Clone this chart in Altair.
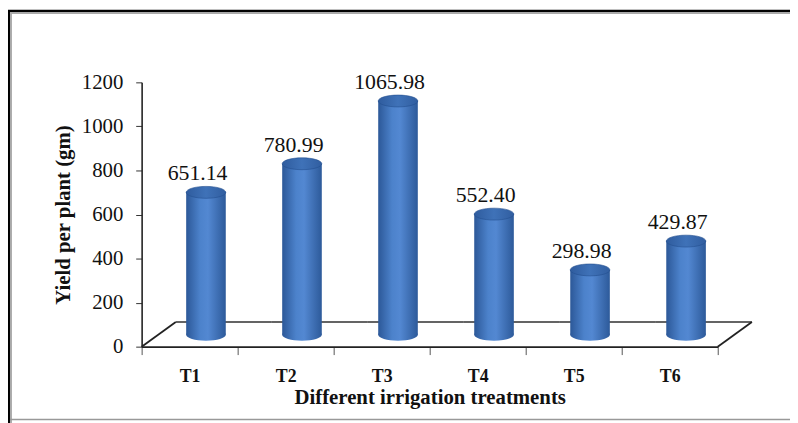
import altair as alt
import pandas as pd

treatments = ["T1", "T2", "T3", "T4", "T5", "T6"]
yields = [651.14, 780.99, 1065.98, 552.40, 298.98, 429.87]
y_ticks = [0, 200, 400, 600, 800, 1000, 1200]

df = pd.DataFrame({"treatment": treatments, "yield": yields})

W, H = 582, 267
SERIF = "Liberation Serif"

x_enc = alt.X(
    "treatment:N",
    sort=treatments,
    scale=alt.Scale(paddingInner=0, paddingOuter=0),
    axis=alt.Axis(
        title="Different irrigation treatments",
        titleFont=SERIF, titleFontSize=21, titleFontWeight="bold", titleColor="#111",
        titlePadding=1,
        labelFont=SERIF, labelFontSize=18, labelFontWeight="bold", labelColor="#111",
        labelAngle=0, labelPadding=13,
        tickBand="extent", tickSize=8, tickColor="#555", tickWidth=1,
        domainColor="#222", domainWidth=1.6,
    ),
)

y_axis = alt.Axis(
    title="Yield per plant (gm)",
    titleFont=SERIF, titleFontSize=21, titleFontWeight="bold", titleColor="#111",
    titlePadding=8,
    labelFont=SERIF, labelFontSize=21, labelColor="#111", labelPadding=13,
    values=y_ticks, format="d",
    tickSize=6, tickColor="#333", tickWidth=1,
    domainColor="#222", domainWidth=1.6, grid=False,
)
y_scale = alt.Scale(domain=[0, 1200], nice=False, zero=True)

base = alt.Chart(df)

body_grad = alt.Gradient(
    gradient="linear", x1=0, x2=1, y1=0, y2=0,
    stops=[
        alt.GradientStop(offset=0, color="#2c5898"),
        alt.GradientStop(offset=0.35, color="#4c82cb"),
        alt.GradientStop(offset=0.55, color="#5388d2"),
        alt.GradientStop(offset=1, color="#2d5a9a"),
    ],
)
top_grad = alt.Gradient(
    gradient="linear", x1=0, x2=1, y1=0, y2=0,
    stops=[
        alt.GradientStop(offset=0, color="#2f5c9e"),
        alt.GradientStop(offset=0.5, color="#3f72b8"),
        alt.GradientStop(offset=1, color="#315ea0"),
    ],
)

ELLIPSE = "M-1,0A1,0.3,0,1,0,1,0A1,0.3,0,1,0,-1,0Z"
DX = 16.5
TOP_OFF = -11
BOT_OFF = -12

floor_back = base.mark_tick(
    orient="horizontal", size=97, thickness=2, color="#222",
    xOffset=34.5, yOffset=-25,
).encode(x=x_enc, y=alt.Y(datum=0, type="quantitative", scale=y_scale, axis=y_axis))

floor_left = alt.Chart(df.head(1)).mark_rule(color="#222", strokeWidth=1.8).encode(
    x=alt.value(0), y=alt.value(H), x2=alt.value(34.5), y2=alt.value(H - 25)
)
floor_right = alt.Chart(df.head(1)).mark_rule(color="#222", strokeWidth=1.8).encode(
    x=alt.value(W), y=alt.value(H), x2=alt.value(W + 34.5), y2=alt.value(H - 25)
)

bottoms = base.mark_point(
    shape=ELLIPSE, size=1600, filled=True, fill=body_grad, opacity=1,
    strokeWidth=0, xOffset=DX, yOffset=BOT_OFF,
).encode(x=x_enc, y=alt.Y(datum=0, type="quantitative", scale=y_scale, axis=y_axis))

bodies = base.mark_bar(
    width=40, fill=body_grad, xOffset=DX, yOffset=TOP_OFF, y2Offset=BOT_OFF,
).encode(
    x=x_enc,
    y=alt.Y("yield:Q", scale=y_scale, axis=y_axis),
    y2=alt.Y2(datum=0),
)

tops = base.mark_point(
    shape=ELLIPSE, size=1600, filled=True, fill=top_grad, opacity=1,
    stroke="#24508f", strokeWidth=0.6, xOffset=DX, yOffset=TOP_OFF,
).encode(x=x_enc, y=alt.Y("yield:Q", scale=y_scale, axis=y_axis))

labels = base.mark_text(
    font=SERIF, fontSize=22, color="#111", baseline="alphabetic",
    xOffset=8, yOffset=-23,
).encode(
    x=x_enc,
    y=alt.Y("yield:Q", scale=y_scale, axis=y_axis),
    text=alt.Text("yield:Q", format=".2f"),
)

frame_df = pd.DataFrame({"k": [0]})
frame_top_black = alt.Chart(frame_df).mark_rule(color="#000", strokeWidth=2.5).encode(
    x=alt.value(-135), x2=alt.value(660), y=alt.value(-72), y2=alt.value(-72)
)
frame_left_black = alt.Chart(frame_df).mark_rule(color="#000", strokeWidth=2.5).encode(
    x=alt.value(-134), x2=alt.value(-134), y=alt.value(-73), y2=alt.value(345)
)
frame_top_grey = alt.Chart(frame_df).mark_rule(color="#aaa", strokeWidth=2).encode(
    x=alt.value(-133), x2=alt.value(660), y=alt.value(-70), y2=alt.value(-70)
)
frame_left_grey = alt.Chart(frame_df).mark_rule(color="#aaa", strokeWidth=2).encode(
    x=alt.value(-132), x2=alt.value(-132), y=alt.value(-70), y2=alt.value(345)
)
frame_bottom_grey = alt.Chart(frame_df).mark_rule(color="#999", strokeWidth=1.5).encode(
    x=alt.value(-133), x2=alt.value(660), y=alt.value(340.5), y2=alt.value(340.5)
)

chart = alt.layer(
    frame_top_black, frame_left_black, frame_top_grey, frame_left_grey, frame_bottom_grey,
    floor_back, floor_left, floor_right, bottoms, bodies, tops, labels,
).properties(
    width=W, height=H,
    autosize=alt.AutoSizeParams(type="none"),
    padding={"left": 135, "top": 73, "right": 73, "bottom": 75},
    background="white",
).configure_view(stroke=None)

chart.save("out.html", embed_options={"renderer": "svg", "actions": False})
